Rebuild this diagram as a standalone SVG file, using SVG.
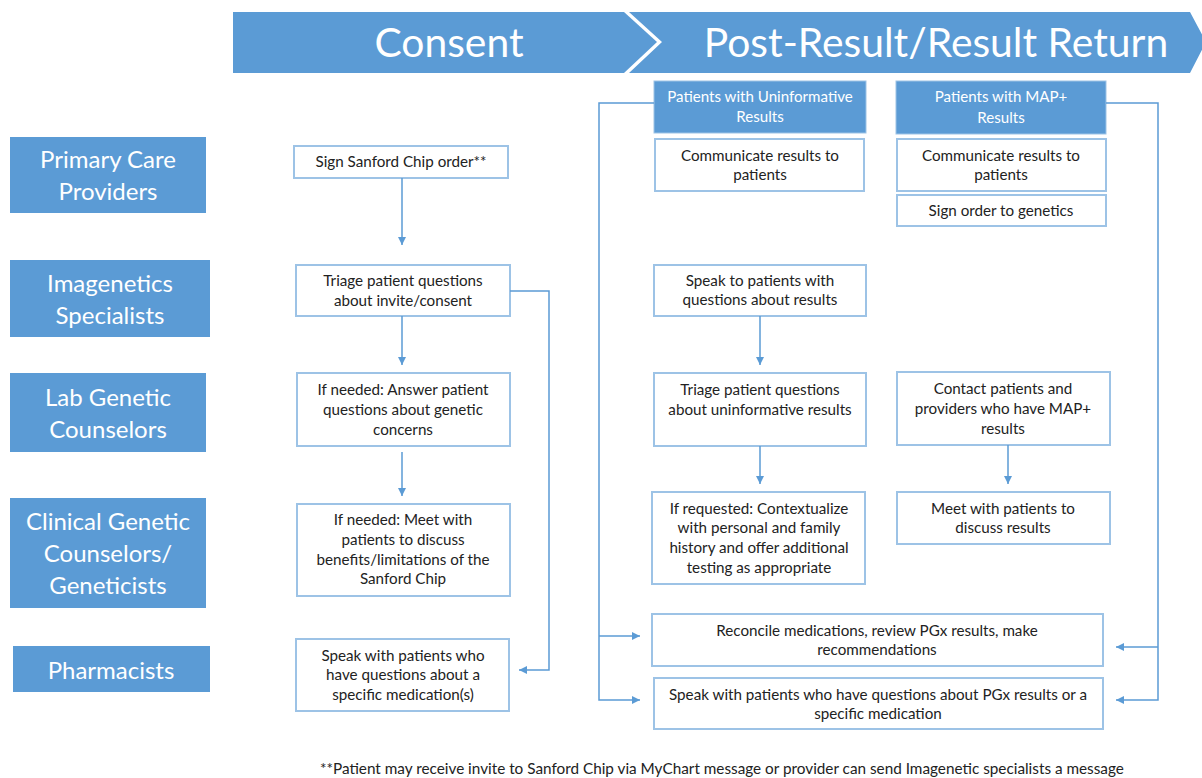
<svg xmlns="http://www.w3.org/2000/svg" width="1202" height="778" viewBox="0 0 1202 778">
<style>
text{font-family:Lato,"Open Sans","Liberation Sans",sans-serif}
.role{fill:#5B9BD5}
.roleT{fill:#fff;font-size:24px;text-anchor:middle}
.box{fill:#fff;stroke:#9DC3E6;stroke-width:2}
.t{fill:#222;font-size:15.2px;text-anchor:middle}
.hd{fill:#5B9BD5;stroke:#9DC3E6;stroke-width:1}
.hdT{fill:#fff;font-size:15.1px;text-anchor:middle}
.ban{fill:#5B9BD5}
.banT{fill:#fff;font-size:40.8px;text-anchor:middle}
.c{fill:none;stroke:#5B9BD5;stroke-width:1.5}
</style>
<defs>
<marker id="ah" viewBox="0 0 10 10" refX="10" refY="5" markerWidth="8" markerHeight="8" markerUnits="userSpaceOnUse" orient="auto">
<path d="M0,0 L10,5 L0,10 z" fill="#5B9BD5"/>
</marker>
</defs>
<rect width="1202" height="778" fill="#fff"/>
<g id="banner">
<polygon class="ban" points="233,12 624,12 657,42 624,73 233,73"/>
<polygon class="ban" points="629,12 1190,12 1206,42 1190,73 629,73 662,42"/>
<text class="banT" x="449" y="57">Consent</text>
<text class="banT" x="936" y="57">Post-Result/Result Return</text>
</g>
<g id="role-pcp"><rect class="role" x="10" y="137" width="196" height="76"/><text class="roleT" x="108" y="168">Primary Care</text><text class="roleT" x="108" y="200">Providers</text></g>
<g id="role-img"><rect class="role" x="10" y="260" width="200" height="77"/><text class="roleT" x="110" y="292">Imagenetics</text><text class="roleT" x="110" y="324">Specialists</text></g>
<g id="role-lab"><rect class="role" x="10" y="373" width="196" height="79"/><text class="roleT" x="108" y="406">Lab Genetic</text><text class="roleT" x="108" y="438">Counselors</text></g>
<g id="role-clin"><rect class="role" x="10" y="498" width="196" height="110"/><text class="roleT" x="108" y="530">Clinical Genetic</text><text class="roleT" x="108" y="562">Counselors/</text><text class="roleT" x="108" y="594">Geneticists</text></g>
<g id="role-pharm"><rect class="role" x="13" y="646" width="197" height="46"/><text class="roleT" x="111" y="679">Pharmacists</text></g>

<g id="c-sign"><rect class="box" x="294" y="146" width="214" height="32"/><text class="t" x="401" y="167">Sign Sanford Chip order**</text></g>
<g id="c-triage"><rect class="box" x="296" y="265" width="214" height="51"/><text class="t" x="403" y="286">Triage patient questions</text><text class="t" x="403" y="306">about invite/consent</text></g>
<g id="c-answer"><rect class="box" x="297" y="373" width="213" height="73"/><text class="t" x="403" y="395">If needed: Answer patient</text><text class="t" x="403" y="415">questions about genetic</text><text class="t" x="403" y="435">concerns</text></g>
<g id="c-meet"><rect class="box" x="297" y="504" width="213" height="92"/><text class="t" x="403" y="525">If needed: Meet with</text><text class="t" x="403" y="545">patients to discuss</text><text class="t" x="403" y="565">benefits/limitations of the</text><text class="t" x="403" y="584">Sanford Chip</text></g>
<g id="c-speak"><rect class="box" x="296" y="639" width="213" height="72"/><text class="t" x="403" y="661">Speak with patients who</text><text class="t" x="403" y="680">have questions about a</text><text class="t" x="403" y="700">specific medication(s)</text></g>

<g id="h-uninf"><rect class="hd" x="654" y="81" width="212" height="52"/><text class="hdT" x="760" y="102">Patients with Uninformative</text><text class="hdT" x="760" y="122">Results</text></g>
<g id="h-map"><rect class="hd" x="896" y="81" width="210" height="53"/><text class="hdT" x="1001" y="102">Patients with MAP+</text><text class="hdT" x="1001" y="123">Results</text></g>
<g id="r-comm1"><rect class="box" x="655" y="139" width="209" height="52"/><text class="t" x="760" y="161">Communicate results to</text><text class="t" x="760" y="180">patients</text></g>
<g id="r-comm2"><rect class="box" x="897" y="139" width="209" height="52"/><text class="t" x="1001" y="161">Communicate results to</text><text class="t" x="1001" y="180">patients</text></g>
<g id="r-signgen"><rect class="box" x="897" y="195" width="209" height="31"/><text class="t" x="1001" y="216">Sign order to genetics</text></g>
<g id="r-speak"><rect class="box" x="654" y="265" width="212" height="51"/><text class="t" x="760" y="286">Speak to patients with</text><text class="t" x="760" y="305">questions about results</text></g>
<g id="r-triage"><rect class="box" x="654" y="373" width="212" height="73"/><text class="t" x="760" y="395">Triage patient questions</text><text class="t" x="760" y="415">about uninformative results</text></g>
<g id="r-contact"><rect class="box" x="897" y="372" width="213" height="73"/><text class="t" x="1003" y="394">Contact patients and</text><text class="t" x="1003" y="414">providers who have MAP+</text><text class="t" x="1003" y="434">results</text></g>
<g id="r-context"><rect class="box" x="652" y="492" width="213" height="92"/><text class="t" x="759" y="514">If requested: Contextualize</text><text class="t" x="759" y="533">with personal and family</text><text class="t" x="759" y="553">history and offer additional</text><text class="t" x="759" y="573">testing as appropriate</text></g>
<g id="r-meet"><rect class="box" x="897" y="492" width="213" height="52"/><text class="t" x="1003" y="514">Meet with patients to</text><text class="t" x="1003" y="533">discuss results</text></g>
<g id="r-reconcile"><rect class="box" x="652" y="614" width="451" height="52"/><text class="t" x="877" y="636">Reconcile medications, review PGx results, make</text><text class="t" x="877" y="655">recommendations</text></g>
<g id="r-pgx"><rect class="box" x="654" y="678" width="449" height="51"/><text class="t" x="878" y="700">Speak with patients who have questions about PGx results or a</text><text class="t" x="878" y="719">specific medication</text></g>

<g id="connectors">
<line class="c" x1="402" y1="178" x2="402" y2="245" marker-end="url(#ah)"/>
<line class="c" x1="402" y1="316" x2="402" y2="365" marker-end="url(#ah)"/>
<line class="c" x1="402" y1="452" x2="402" y2="496" marker-end="url(#ah)"/>
<polyline class="c" points="510,291 549,291 549,670 519,670" marker-end="url(#ah)"/>
<line class="c" x1="760" y1="316" x2="760" y2="365" marker-end="url(#ah)"/>
<line class="c" x1="760" y1="446" x2="760" y2="484" marker-end="url(#ah)"/>
<line class="c" x1="1008" y1="445" x2="1008" y2="484" marker-end="url(#ah)"/>
<polyline class="c" points="654,103 599,103 599,700 640,700" marker-end="url(#ah)"/>
<line class="c" x1="599" y1="636" x2="640" y2="636" marker-end="url(#ah)"/>
<polyline class="c" points="1106,103 1158,103 1158,700 1116,700" marker-end="url(#ah)"/>
<line class="c" x1="1158" y1="647" x2="1116" y2="647" marker-end="url(#ah)"/>
</g>
<text id="footnote" x="320" y="774" fill="#222" font-size="15.3">**Patient may receive invite to Sanford Chip via MyChart message or provider can send Imagenetic specialists a message</text>
</svg>
